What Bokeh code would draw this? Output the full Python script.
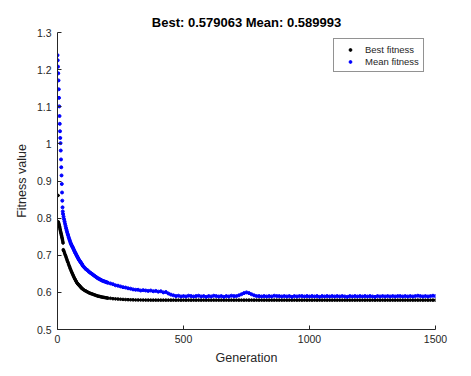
from bokeh.plotting import figure
from bokeh.models import Range1d, FixedTicker, Legend, LegendItem, ColumnDataSource
from bokeh.embed import file_html
from bokeh.resources import INLINE

title_text = "Best: 0.579063 Mean: 0.589993"
x_label = "Generation"
y_label = "Fitness value"
x_ticks = [0, 500, 1000, 1500]
y_ticks = [0.5, 0.6, 0.7, 0.8, 0.9, 1, 1.1, 1.2, 1.3]
y_tick_labels = ["0.5", "0.6", "0.7", "0.8", "0.9", "1", "1.1", "1.2", "1.3"]

# generations at which values were read
mean_gen = list(range(0, 22)) + list(range(22, 101, 2)) + list(range(104, 201, 4)) + list(range(210, 1501, 10))
best_gen = list(range(0, 24)) + list(range(24, 101, 2)) + list(range(104, 201, 4)) + list(range(210, 1501, 10))

mean_fitness = [
    1.239, 1.225, 1.208, 1.190, 1.171, 1.147, 1.124, 1.101, 1.075, 1.054, 1.034,
    1.016, 1.002, 0.982, 0.958, 0.937, 0.915, 0.892, 0.869, 0.847, 0.829, 0.818,
    # 22..100 step 2
    0.811, 0.804, 0.797, 0.791, 0.785, 0.779, 0.773, 0.768, 0.763, 0.758,
    0.754, 0.749, 0.745, 0.741, 0.737, 0.733, 0.730, 0.727, 0.724, 0.722,
    0.719, 0.716, 0.713, 0.710, 0.707, 0.705, 0.702, 0.699, 0.697, 0.694,
    0.692, 0.689, 0.687, 0.685, 0.683, 0.681, 0.679, 0.677, 0.675, 0.672,
    # 104..200 step 4
    0.669, 0.666, 0.663, 0.661, 0.659, 0.656, 0.654, 0.652, 0.650, 0.648,
    0.646, 0.644, 0.642, 0.640, 0.638, 0.637, 0.635, 0.634, 0.632, 0.631,
    0.630, 0.629, 0.628, 0.627, 0.626,
    # 210..1500 step 10
    0.624, 0.622, 0.619, 0.618, 0.616, 0.614, 0.613, 0.611, 0.610, 0.608,
    0.607, 0.607, 0.605, 0.606, 0.605, 0.604, 0.605, 0.603, 0.604, 0.602,
    0.603, 0.600, 0.601, 0.597, 0.594, 0.592, 0.590, 0.591, 0.589, 0.590,
    0.589, 0.591, 0.590, 0.589, 0.590, 0.591, 0.589, 0.590, 0.588, 0.590,
    0.589, 0.591, 0.590, 0.589, 0.590, 0.588, 0.590, 0.589, 0.591, 0.590,
    0.590, 0.592, 0.595, 0.598, 0.600, 0.598, 0.595, 0.592, 0.590, 0.590,
    0.589, 0.590, 0.589, 0.590, 0.589, 0.591, 0.590, 0.590, 0.589, 0.590,
    0.589, 0.590, 0.588, 0.590, 0.589, 0.590, 0.590, 0.589, 0.590, 0.589,
    0.590, 0.589, 0.590, 0.588, 0.590, 0.589, 0.590, 0.589, 0.590, 0.589,
    0.590, 0.589, 0.590, 0.589, 0.588, 0.590, 0.589, 0.590, 0.589, 0.590,
    0.589, 0.590, 0.589, 0.590, 0.589, 0.588, 0.590, 0.589, 0.590, 0.589,
    0.590, 0.589, 0.590, 0.589, 0.590, 0.590, 0.589, 0.590, 0.589, 0.590,
    0.589, 0.590, 0.591, 0.590, 0.589, 0.590, 0.589, 0.590, 0.591, 0.590,
]

best_fitness = [
    0.861, 0.861, 0.861,
    0.790, 0.788, 0.785, 0.783, 0.780, 0.777, 0.775, 0.771, 0.768, 0.765,
    0.762, 0.759, 0.756, 0.753, 0.750, 0.747, 0.744, 0.741, 0.737, 0.733,
    0.715,
    # 24..100 step 2
    0.713, 0.710, 0.706, 0.702, 0.699, 0.695, 0.691, 0.687, 0.683, 0.680,
    0.676, 0.672, 0.669, 0.665, 0.662, 0.658, 0.655, 0.652, 0.649, 0.646,
    0.643, 0.640, 0.637, 0.635, 0.632, 0.630, 0.627, 0.625, 0.623, 0.622,
    0.620, 0.619, 0.617, 0.616, 0.614, 0.613, 0.611, 0.610, 0.609,
    # 104..200 step 4
    0.607, 0.605, 0.604, 0.602, 0.601, 0.599, 0.598, 0.597, 0.596, 0.595,
    0.594, 0.593, 0.592, 0.591, 0.590, 0.5895, 0.589, 0.588, 0.5875, 0.587,
    0.5865, 0.586, 0.5855, 0.585, 0.5845,
    # 210..1500 step 10
    0.584, 0.583, 0.5825, 0.582, 0.5815, 0.581, 0.5806, 0.5803, 0.580, 0.5798,
    0.5796, 0.5795, 0.5794, 0.5793, 0.5792, 0.5792, 0.5791, 0.5791, 0.5791, 0.579063,
    0.579063, 0.579063, 0.579063, 0.579063, 0.579063, 0.579063, 0.579063, 0.579063, 0.579063, 0.579063,
    0.579063, 0.579063, 0.579063, 0.579063, 0.579063, 0.579063, 0.579063, 0.579063, 0.579063, 0.579063,
    0.579063, 0.579063, 0.579063, 0.579063, 0.579063, 0.579063, 0.579063, 0.579063, 0.579063, 0.579063,
    0.579063, 0.579063, 0.579063, 0.579063, 0.579063, 0.579063, 0.579063, 0.579063, 0.579063, 0.579063,
    0.579063, 0.579063, 0.579063, 0.579063, 0.579063, 0.579063, 0.579063, 0.579063, 0.579063, 0.579063,
    0.579063, 0.579063, 0.579063, 0.579063, 0.579063, 0.579063, 0.579063, 0.579063, 0.579063, 0.579063,
    0.579063, 0.579063, 0.579063, 0.579063, 0.579063, 0.579063, 0.579063, 0.579063, 0.579063, 0.579063,
    0.579063, 0.579063, 0.579063, 0.579063, 0.579063, 0.579063, 0.579063, 0.579063, 0.579063, 0.579063,
    0.579063, 0.579063, 0.579063, 0.579063, 0.579063, 0.579063, 0.579063, 0.579063, 0.579063, 0.579063,
    0.579063, 0.579063, 0.579063, 0.579063, 0.579063, 0.579063, 0.579063, 0.579063, 0.579063, 0.579063,
    0.579063, 0.579063, 0.579063, 0.579063, 0.579063, 0.579063, 0.579063, 0.579063, 0.579063, 0.579063,
]

assert len(mean_gen) == len(mean_fitness), (len(mean_gen), len(mean_fitness))
assert len(best_gen) == len(best_fitness), (len(best_gen), len(best_fitness))

FONT = "Liberation Sans"
AX = "#262626"

p = figure(width=463, height=368, output_backend="svg", toolbar_location=None,
           x_range=Range1d(0, 1500), y_range=Range1d(0.5, 1.3),
           min_border_left=57, min_border_right=28, min_border_top=32, min_border_bottom=39,
           title=title_text)
p.outline_line_color = None
p.xgrid.visible = False
p.ygrid.visible = False
p.background_fill_color = "white"
p.border_fill_color = "white"

p.title.align = "center"
p.title.text_font = FONT
p.title.text_font_size = "13px"
p.title.text_font_style = "bold"
p.title.text_color = "black"
p.title.standoff = 6

p.xaxis.ticker = FixedTicker(ticks=x_ticks)
p.yaxis.ticker = FixedTicker(ticks=y_ticks)
p.yaxis.major_label_overrides = {t: l for t, l in zip(y_ticks, y_tick_labels)}
p.xaxis.axis_label = x_label
p.yaxis.axis_label = y_label
for ax in (p.xaxis, p.yaxis):
    ax.axis_line_color = AX
    ax.major_tick_line_color = AX
    ax.minor_tick_line_color = None
    ax.major_tick_in = 4
    ax.major_tick_out = 0
    ax.major_label_text_font = FONT
    ax.major_label_text_font_size = "10.5px"
    ax.major_label_text_color = AX
    ax.axis_label_text_font = FONT
    ax.axis_label_text_font_size = "12.5px"
    ax.axis_label_text_font_style = "normal"
    ax.axis_label_text_color = AX
p.xaxis.major_label_standoff = 5
p.xaxis.axis_label_standoff = 5
p.yaxis.major_label_standoff = 6
p.yaxis.axis_label_standoff = 5

src_best = ColumnDataSource(dict(g=best_gen, f=best_fitness))
src_mean = ColumnDataSource(dict(g=mean_gen, f=mean_fitness))
r_best = p.scatter("g", "f", source=src_best, size=2.6, color="black", marker="circle")
r_mean = p.scatter("g", "f", source=src_mean, size=3.0, color="#0000FF", marker="circle")

legend = Legend(items=[LegendItem(label="Best fitness", renderers=[r_best]),
                       LegendItem(label="Mean fitness", renderers=[r_mean])],
                location=(276, 257))
legend.border_line_color = AX
legend.border_line_width = 1
legend.background_fill_color = "white"
legend.background_fill_alpha = 1
legend.padding = 4
legend.spacing = 0
legend.margin = 0
legend.glyph_width = 24
legend.glyph_height = 7
legend.label_height = 12
legend.label_standoff = 3
legend.label_text_font = FONT
legend.label_text_font_size = "9.5px"
legend.label_text_color = AX
p.add_layout(legend)

open("out.html", "w").write(file_html(p, INLINE))
